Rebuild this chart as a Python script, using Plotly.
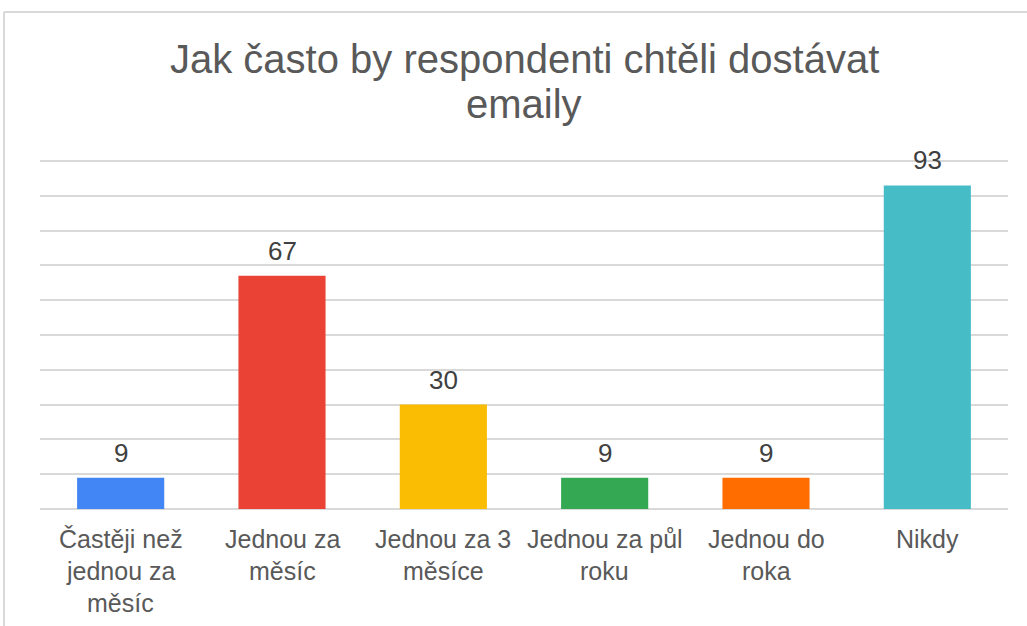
import plotly.graph_objects as go

categories = ["Častěji než jednou za měsíc", "Jednou za měsíc", "Jednou za 3 měsíce",
              "Jednou za půl roku", "Jednou do roka", "Nikdy"]
label_lines = [["Častěji než", "jednou za", "měsíc"], ["Jednou za", "měsíc"], ["Jednou za 3", "měsíce"],
               ["Jednou za půl", "roku"], ["Jednou do", "roka"], ["Nikdy"]]
values = [9, 67, 30, 9, 9, 93]
colors = ["#4285F4", "#EA4335", "#FBBC04", "#34A853", "#FF6D01", "#46BDC6"]
title_lines = ["Jak často by respondenti chtěli dostávat", "emaily"]

FONT = "Liberation Sans, Arial"

fig = go.Figure(go.Bar(
    x=categories, y=values, marker=dict(color=colors, line=dict(width=0)),
))

annotations = []
# value labels
for c, v in zip(categories, values):
    annotations.append(dict(x=c, y=v, xref="x", yref="y", text=str(v), showarrow=False,
                            yanchor="bottom", yshift=8,
                            font=dict(family=FONT, size=26, color="#404040")))
# category labels (line by line for Excel-like line spacing)
for c, lines in zip(categories, label_lines):
    for i, ln in enumerate(lines):
        annotations.append(dict(x=c, y=0, xref="x", yref="y", text=ln, showarrow=False,
                                yanchor="middle", yshift=-(30 + 32 * i),
                                font=dict(family=FONT, size=25, color="#595959")))
# title lines
for i, ln in enumerate(title_lines):
    annotations.append(dict(x=0.5, y=1, xref="paper", yref="paper", text=ln, showarrow=False,
                            xanchor="center", yanchor="middle", yshift=(160 - 59 - 45 * i),
                            font=dict(family=FONT, size=40, color="#595959")))

fig.update_layout(
    width=1027, height=626,
    margin=dict(l=40, r=19, t=160, b=117),
    paper_bgcolor="white", plot_bgcolor="white",
    bargap=0.46,
    showlegend=False,
    annotations=annotations,
    font=dict(family=FONT, color="#595959"),
)
fig.update_yaxes(range=[0, 100.3], dtick=10, showticklabels=False, gridcolor="#d9d9d9",
                 gridwidth=2, zeroline=True, zerolinecolor="#d9d9d9", zerolinewidth=2,
                 showline=False)
fig.update_xaxes(showticklabels=False, showline=False)

# outer chart border (partially cropped in reference)
fig.add_shape(type="line", xref="paper", yref="paper", x0=-0.0372, x1=1.2, y0=1.424, y1=1.424,
              line=dict(color="#d9d9d9", width=2))
fig.add_shape(type="line", xref="paper", yref="paper", x0=-0.0372, x1=-0.0372, y0=1.424, y1=-0.6,
              line=dict(color="#d9d9d9", width=2))

fig.write_html("out.html")
